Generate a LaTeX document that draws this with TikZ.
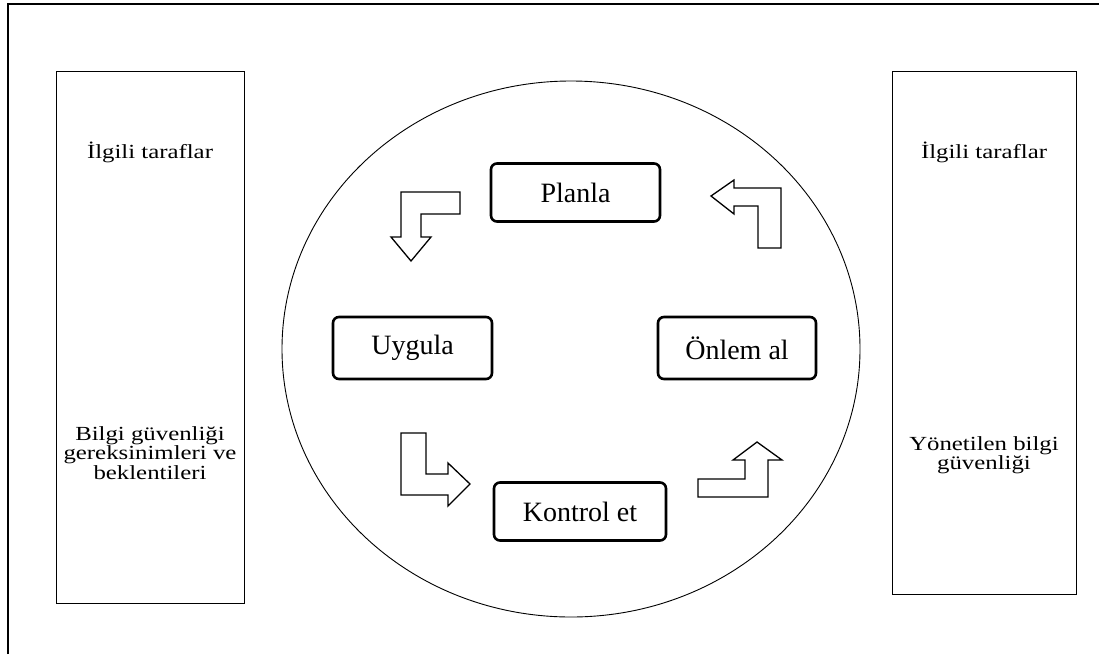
\documentclass[tikz,border=0pt]{standalone}
\usepackage{fontspec}
\setmainfont{Liberation Serif}
\newfontfamily\widefont[FakeStretch=1.24]{Liberation Serif}
\usepackage{tikz}
\usetikzlibrary{positioning,calc}

\begin{document}
\begin{tikzpicture}[x=1pt, y=-1pt,
  side/.style={rectangle, draw, line width=0.8pt, minimum width=188pt, anchor=north},
  stage/.style={rectangle, draw, line width=2.6pt, rounded corners=6pt, minimum width=166pt, minimum height=58pt, font=\fontsize{28}{32}\selectfont},
  note/.style={align=center, font=\widefont\fontsize{20}{18}\selectfont},
  blockarrow/.style={draw, line width=1.3pt, fill=white, line join=miter}]
\useasboundingbox (0,0) rectangle (1099,654);
% outer frame
\draw[line width=2pt] (8,654) -- (8,4) -- (1099,4);
% side boxes
\node[side, minimum height=532pt] (left) at (150,71) {};
\node[side, minimum height=523pt, minimum width=184pt] (right) at (984,71) {};
\node[note] (lefttop) at (150,152) {İlgili taraflar};
\node[note] (leftbot) at (150,453) {Bilgi güvenliği\\gereksinimleri ve\\beklentileri};
\node[note] (righttop) at (984,152) {İlgili taraflar};
\node[note] (rightbot) at (984,455) {Yönetilen bilgi\\güvenliği};
% cycle
\draw[line width=0.9pt] (571,349) ellipse [x radius=289, y radius=268];
\node[stage, minimum width=169pt] (plan) at (575.5,192.5) {Planla};
\node[stage, minimum width=159pt, minimum height=62pt] (do) at (412.5,348) {Uygula};
\node[stage, minimum width=158pt, minimum height=62pt] (act) at (737,348) {Önlem al};
\node[stage, minimum width=172pt] (check) at (580,511.5) {Kontrol et};
% turning arrows
\draw[blockarrow] (401,192) -- (460,192) -- (460,214) -- (421,214) -- (421,237) -- (431,237)
  -- (411,261) -- (391,237) -- (401,237) -- cycle;
\draw[blockarrow] (401,433) -- (426,433) -- (426,474) -- (448,474) -- (448,463) -- (470,484)
  -- (448,506) -- (448,495) -- (401,495) -- cycle;
\draw[blockarrow] (698,479) -- (745,479) -- (745,460) -- (733,460) -- (757,442) -- (782,460)
  -- (768,460) -- (768,497) -- (698,497) -- cycle;
\draw[blockarrow] (711,196) -- (734,180) -- (734,188) -- (781,188) -- (781,248) -- (758,248)
  -- (758,206) -- (734,206) -- (734,214) -- cycle;
\end{tikzpicture}
\end{document}
